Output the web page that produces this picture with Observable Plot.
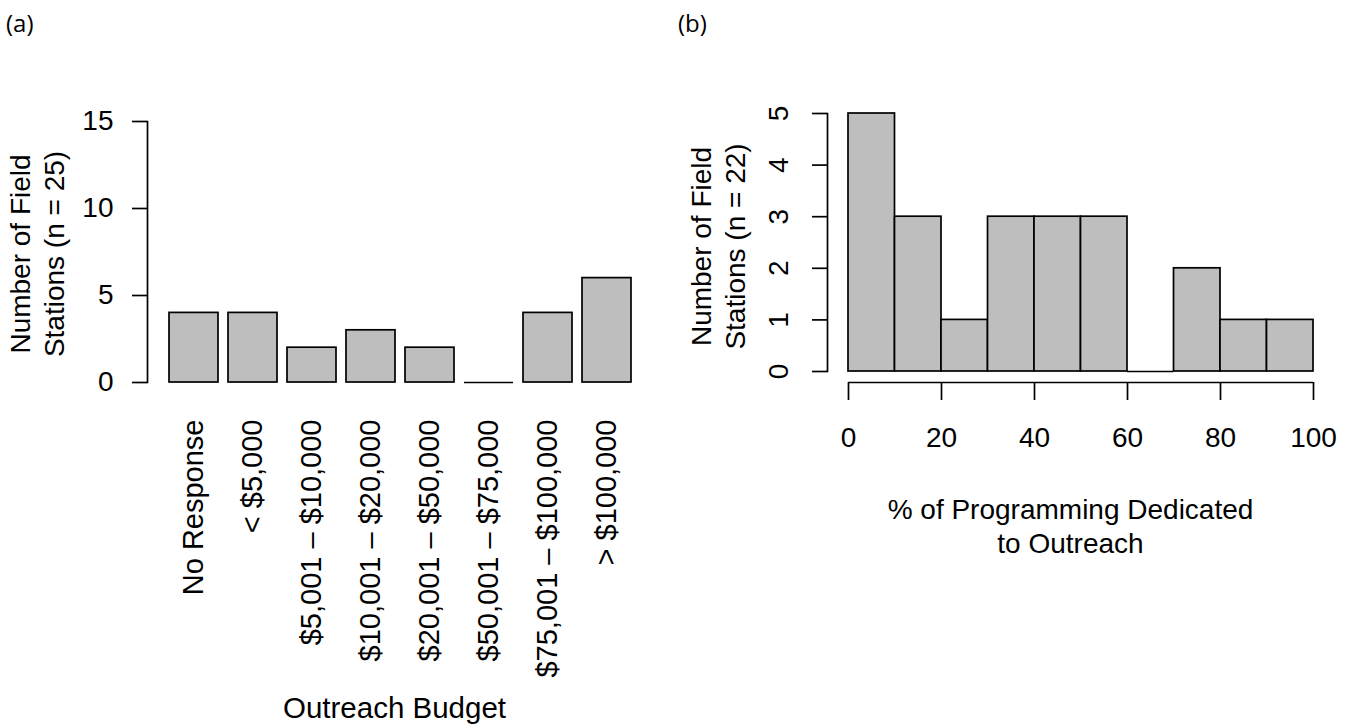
<!DOCTYPE html>
<html><head><meta charset="utf-8">
<script src="https://cdn.jsdelivr.net/npm/d3@7"></script>
<script src="https://cdn.jsdelivr.net/npm/@observablehq/plot@0.6"></script>
<style>
body{margin:0;background:#fff;}
#wrap{position:relative;width:1352px;height:726px;overflow:hidden;background:#fff;}
#wrap svg{position:absolute;left:0;top:0;}
.tag{position:absolute;font-family:"Open Sans",sans-serif;font-size:24px;line-height:24px;color:#000;}
</style></head><body>
<div id="wrap">
<div class="tag" style="left:6px;top:11px">(a)</div>
<div class="tag" style="left:678px;top:11px">(b)</div>
</div>
<script>
// Panel (a) data
const budgetCategories = ["No Response", "< $5,000", "$5,001 – $10,000", "$10,001 – $20,000", "$20,001 – $50,000", "$50,001 – $75,000", "$75,001 – $100,000", "> $100,000"];
const budgetCounts = [4, 4, 2, 3, 2, 0, 4, 6];
const budgetYTicks = [0, 5, 10, 15];
const budgetYTitle = "Number of Field\nStations (n = 25)";
const budgetXTitle = "Outreach Budget";

// Panel (b) data
const binStarts = [0, 10, 20, 30, 40, 50, 60, 70, 80, 90];
const binEnds = [10, 20, 30, 40, 50, 60, 70, 80, 90, 100];
const binCounts = [5, 3, 1, 3, 3, 3, 0, 2, 1, 1];
const pctYTicks = [0, 1, 2, 3, 4, 5];
const pctXTicks = [0, 20, 40, 60, 80, 100];
const pctYTitle = "Number of Field\nStations (n = 22)";
const pctXTitle = "% of Programming Dedicated\nto Outreach";

const font = '"Liberation Sans", Arial, Helvetica, sans-serif';
const FS = 28;
const SW = 1.7;
const GRAY = "#bebebe";
const svgStyle = {background: "transparent", fontFamily: font, fontSize: FS + "px", overflow: "visible"};
const fmt = d => String(d);

const budget = budgetCategories.map((c, i) => ({category: c, count: budgetCounts[i]}));
const bins = binStarts.map((s, i) => ({start: s, end: binEnds[i], count: binCounts[i]}));

const plotA = Plot.plot({
  width: 1352, height: 726,
  marginLeft: 147, marginRight: 719, marginTop: 121, marginBottom: 344,
  style: svgStyle,
  x: {domain: budgetCategories, paddingInner: 0.2 / 1.2, paddingOuter: 0, insetLeft: 21},
  y: {domain: [0, 15]},
  marks: [
    Plot.barY(budget, {x: "category", y: "count", fill: GRAY, stroke: "black", strokeWidth: SW}),
    Plot.tickY(budget.filter(d => d.count === 0), {x: "category", y: "count", stroke: "black", strokeWidth: SW}),
    Plot.frame({anchor: "left", stroke: "black", strokeWidth: SW}),
    Plot.axisY({ticks: budgetYTicks, tickFormat: fmt, tickSize: 15, tickPadding: 19, fontSize: FS, strokeWidth: SW, label: null}),
    Plot.axisX({tickSize: 0, tickRotate: -90, textAnchor: "end", lineAnchor: "middle", tickPadding: 37, fontSize: 29, label: null}),
    Plot.text([budgetYTitle], {frameAnchor: "left", rotate: -90, textAnchor: "middle", lineAnchor: "bottom", lineHeight: 1.18, dx: -84, dy: 2, fontSize: FS, fill: "black"}),
    Plot.text([budgetXTitle], {frameAnchor: "bottom", textAnchor: "middle", lineAnchor: "bottom", dx: 4, dy: 335, fontSize: 29.5, fill: "black"})
  ]
});

const plotB = Plot.plot({
  width: 1352, height: 726,
  marginLeft: 827, marginRight: 39, marginTop: 113, marginBottom: 355,
  style: svgStyle,
  x: {domain: [0, 100], insetLeft: 21},
  y: {domain: [0, 5]},
  marks: [
    Plot.rectY(bins, {x1: "start", x2: "end", y: "count", fill: GRAY, stroke: "black", strokeWidth: SW}),
    Plot.ruleY(bins.filter(d => d.count === 0), {x1: "start", x2: "end", y: "count", stroke: "black", strokeWidth: SW}),
    Plot.frame({anchor: "left", stroke: "black", strokeWidth: SW}),
    Plot.axisY({ticks: pctYTicks, tickFormat: fmt, tickSize: 15, tickRotate: -90, textAnchor: "middle", lineAnchor: "bottom", tickPadding: 25, fontSize: FS, strokeWidth: SW, label: null}),
    Plot.ruleY([0], {x1: pctXTicks[0], x2: pctXTicks[pctXTicks.length - 1], dy: 11, stroke: "black", strokeWidth: SW}),
    Plot.axisX({ticks: pctXTicks, tickFormat: fmt, tickSize: 18, tickPadding: 27, dy: 11, fontSize: FS, strokeWidth: SW, label: null}),
    Plot.text([pctYTitle], {frameAnchor: "left", rotate: -90, textAnchor: "middle", lineAnchor: "bottom", lineHeight: 1.18, dx: -83, dy: 4, fontSize: FS, fill: "black"}),
    Plot.text([pctXTitle], {frameAnchor: "bottom", textAnchor: "middle", lineAnchor: "bottom", lineHeight: 1.21, dy: 181, fontSize: FS, fill: "black"})
  ]
});

const wrap = document.getElementById("wrap");
wrap.appendChild(plotA);
wrap.appendChild(plotB);
</script>
</body></html>
